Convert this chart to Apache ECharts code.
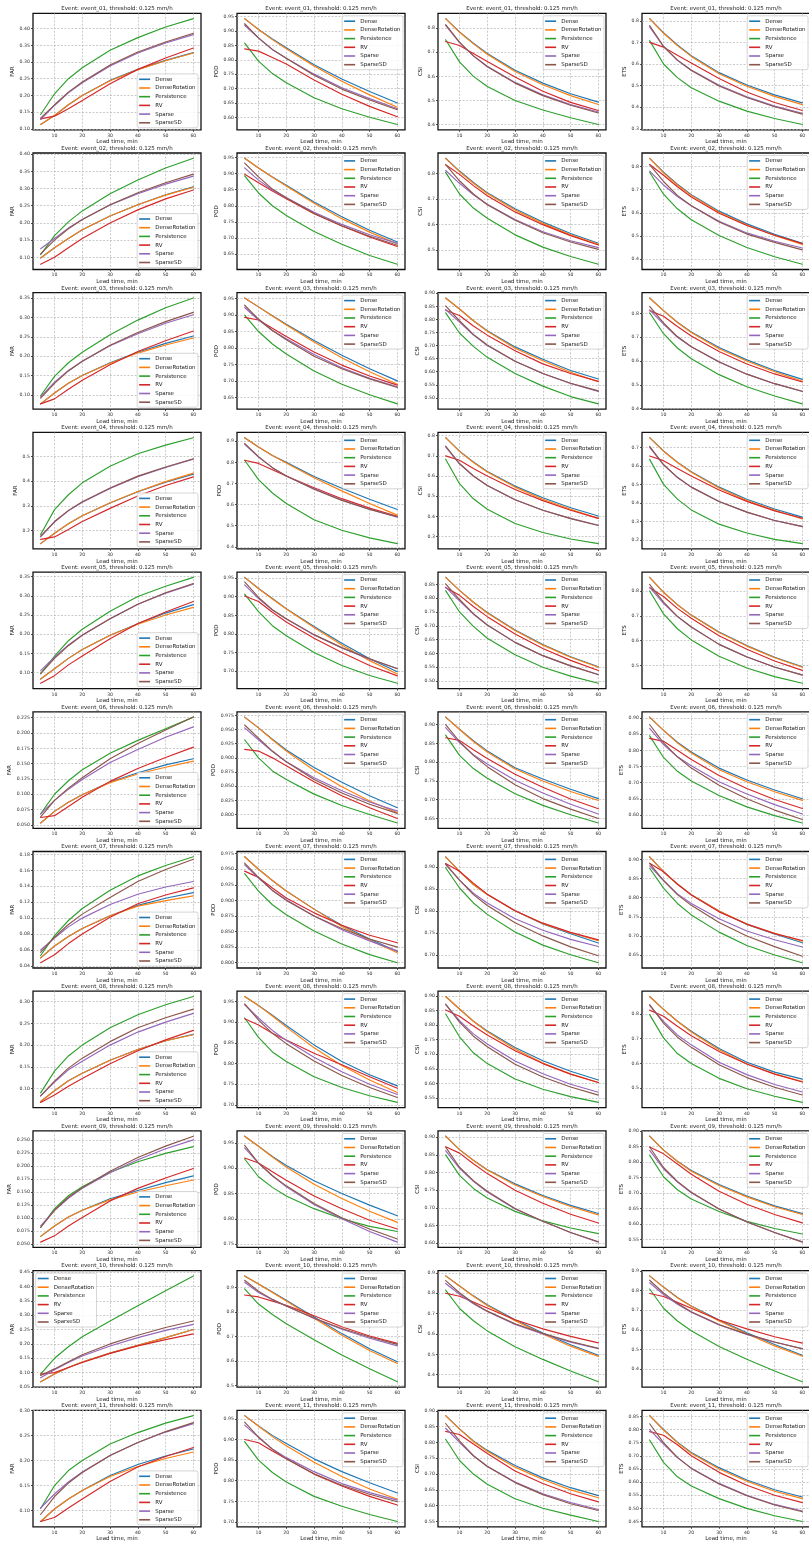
<!DOCTYPE html>
<html><head><meta charset="utf-8">
<script src="https://cdn.jsdelivr.net/npm/echarts@6/dist/echarts.min.js"></script>
<style>html,body{margin:0;padding:0;background:#fff}#chart{width:809px;height:1544px}</style>
</head><body><div id="chart"></div>
<script>
// ---------------- data ----------------
const leadTimes = [5, 10, 15, 20, 30, 40, 50, 60];
const xTicks = [10, 20, 30, 40, 50, 60];
const methods = ['Dense', 'DenseRotation', 'Persistence', 'RV', 'Sparse', 'SparseSD'];
const metrics = ['FAR', 'POD', 'CSI', 'ETS'];
const events = ['event_01','event_02','event_03','event_04','event_05','event_06','event_07','event_08','event_09','event_10','event_11'];
const thresholdText = '0.125 mm/h';
const xLabel = 'Lead time, min';
// y tick steps (per event)
const tickStepFAR = [0.05, 0.05, 0.05, 0.1, 0.05, 0.025, 0.02, 0.05, 0.025, 0.05, 0.05];
const tickStepPOD = [0.05, 0.05, 0.05, 0.1, 0.05, 0.025, 0.025, 0.05, 0.05, 0.1, 0.05];
const tickStepCSI = [0.1, 0.1, 0.05, 0.1, 0.05, 0.05, 0.05, 0.05, 0.05, 0.1, 0.05];
const tickStepETS = [0.1, 0.1, 0.1, 0.1, 0.1, 0.05, 0.05, 0.1, 0.05, 0.1, 0.05];

// rows: Dense, DenseRotation, Persistence, RV, Sparse, SparseSD ; columns: leadTimes
const e01_FAR = [[0.113,0.140,0.172,0.200,0.245,0.278,0.305,0.328],[0.113,0.140,0.172,0.200,0.244,0.277,0.304,0.327],[0.143,0.205,0.250,0.283,0.335,0.373,0.405,0.430],[0.130,0.138,0.160,0.185,0.235,0.278,0.312,0.342],[0.128,0.170,0.208,0.238,0.288,0.327,0.357,0.382],[0.132,0.172,0.210,0.240,0.291,0.330,0.360,0.386]];
const e01_POD = [[0.943,0.905,0.872,0.842,0.783,0.733,0.690,0.650],[0.943,0.905,0.870,0.838,0.778,0.725,0.678,0.635],[0.858,0.795,0.752,0.720,0.668,0.630,0.600,0.575],[0.838,0.830,0.808,0.785,0.730,0.680,0.638,0.602],[0.920,0.875,0.835,0.805,0.750,0.703,0.665,0.630],[0.925,0.876,0.836,0.805,0.746,0.698,0.660,0.626]];
const e01_CSI = [[0.840,0.785,0.738,0.695,0.625,0.572,0.528,0.493],[0.840,0.783,0.735,0.692,0.620,0.565,0.520,0.483],[0.752,0.660,0.600,0.558,0.500,0.460,0.428,0.400],[0.745,0.728,0.695,0.662,0.597,0.538,0.492,0.458],[0.812,0.740,0.685,0.642,0.575,0.523,0.483,0.452],[0.815,0.742,0.685,0.640,0.572,0.520,0.480,0.448]];
const e01_ETS = [[0.810,0.745,0.688,0.638,0.560,0.503,0.457,0.420],[0.810,0.742,0.685,0.635,0.555,0.497,0.450,0.412],[0.708,0.600,0.537,0.490,0.428,0.382,0.348,0.320],[0.700,0.678,0.640,0.605,0.533,0.470,0.422,0.385],[0.772,0.680,0.617,0.572,0.502,0.448,0.405,0.372],[0.778,0.682,0.618,0.570,0.498,0.445,0.402,0.368]];

const e02_FAR = [[0.098,0.128,0.155,0.180,0.220,0.253,0.282,0.305],[0.098,0.128,0.155,0.180,0.220,0.253,0.281,0.304],[0.108,0.163,0.203,0.235,0.285,0.325,0.360,0.388],[0.080,0.100,0.128,0.155,0.200,0.238,0.270,0.296],[0.125,0.155,0.185,0.210,0.252,0.285,0.313,0.336],[0.110,0.150,0.183,0.210,0.253,0.288,0.317,0.342]];
const e02_POD = [[0.948,0.918,0.890,0.864,0.812,0.766,0.724,0.687],[0.948,0.918,0.889,0.862,0.808,0.760,0.718,0.682],[0.893,0.840,0.800,0.770,0.720,0.680,0.645,0.618],[0.898,0.872,0.846,0.822,0.775,0.737,0.703,0.673],[0.918,0.880,0.849,0.825,0.780,0.742,0.710,0.683],[0.933,0.890,0.852,0.825,0.777,0.738,0.705,0.677]];
const e02_CSI = [[0.860,0.810,0.765,0.725,0.662,0.610,0.565,0.527],[0.860,0.808,0.762,0.722,0.657,0.605,0.560,0.523],[0.805,0.720,0.665,0.625,0.560,0.512,0.475,0.445],[0.835,0.797,0.753,0.713,0.650,0.600,0.557,0.520],[0.812,0.762,0.717,0.680,0.620,0.572,0.537,0.510],[0.835,0.772,0.720,0.678,0.617,0.568,0.532,0.503]];
const e02_ETS = [[0.835,0.775,0.723,0.678,0.607,0.552,0.507,0.468],[0.835,0.772,0.720,0.675,0.602,0.547,0.502,0.463],[0.775,0.680,0.617,0.570,0.502,0.450,0.410,0.378],[0.808,0.762,0.712,0.668,0.598,0.545,0.503,0.467],[0.780,0.720,0.670,0.630,0.563,0.513,0.477,0.448],[0.808,0.735,0.675,0.630,0.560,0.508,0.472,0.440]];

const e03_FAR = [[0.077,0.105,0.130,0.150,0.183,0.210,0.233,0.252],[0.077,0.105,0.130,0.150,0.182,0.208,0.229,0.247],[0.098,0.148,0.183,0.210,0.255,0.293,0.325,0.350],[0.077,0.090,0.115,0.138,0.178,0.212,0.240,0.265],[0.095,0.133,0.163,0.187,0.227,0.258,0.285,0.307],[0.092,0.130,0.162,0.187,0.228,0.261,0.289,0.313]];
const e03_POD = [[0.952,0.925,0.898,0.872,0.823,0.778,0.737,0.700],[0.952,0.925,0.897,0.870,0.818,0.770,0.728,0.690],[0.900,0.850,0.812,0.782,0.730,0.690,0.658,0.630],[0.893,0.885,0.860,0.835,0.788,0.748,0.715,0.687],[0.923,0.885,0.853,0.828,0.780,0.740,0.708,0.682],[0.930,0.888,0.853,0.825,0.775,0.737,0.706,0.680]];
const e03_CSI = [[0.882,0.840,0.795,0.757,0.695,0.648,0.605,0.572],[0.882,0.840,0.795,0.755,0.690,0.642,0.598,0.562],[0.825,0.748,0.697,0.655,0.593,0.545,0.505,0.477],[0.835,0.815,0.775,0.740,0.680,0.630,0.593,0.563],[0.838,0.790,0.740,0.700,0.640,0.593,0.555,0.525],[0.852,0.795,0.743,0.702,0.640,0.593,0.556,0.527]];
const e03_ETS = [[0.865,0.812,0.763,0.722,0.657,0.605,0.560,0.523],[0.865,0.812,0.762,0.720,0.652,0.600,0.555,0.515],[0.803,0.715,0.655,0.610,0.543,0.492,0.453,0.420],[0.812,0.788,0.745,0.705,0.640,0.588,0.546,0.512],[0.815,0.755,0.700,0.660,0.597,0.545,0.505,0.472],[0.830,0.760,0.703,0.660,0.596,0.545,0.505,0.473]];

const e04_FAR = [[0.148,0.190,0.228,0.260,0.312,0.357,0.396,0.428],[0.148,0.190,0.228,0.260,0.313,0.358,0.398,0.432],[0.185,0.285,0.345,0.393,0.460,0.510,0.545,0.575],[0.165,0.175,0.205,0.237,0.290,0.340,0.382,0.417],[0.175,0.235,0.280,0.315,0.370,0.418,0.455,0.488],[0.178,0.237,0.282,0.317,0.372,0.420,0.457,0.490]];
const e04_POD = [[0.917,0.873,0.833,0.800,0.733,0.677,0.625,0.577],[0.917,0.873,0.833,0.797,0.727,0.665,0.605,0.550],[0.810,0.718,0.655,0.605,0.528,0.478,0.442,0.415],[0.810,0.795,0.765,0.735,0.680,0.628,0.583,0.545],[0.885,0.825,0.775,0.735,0.675,0.622,0.578,0.540],[0.890,0.827,0.775,0.735,0.673,0.620,0.577,0.542]];
const e04_CSI = [[0.790,0.723,0.670,0.623,0.550,0.492,0.443,0.402],[0.790,0.722,0.667,0.620,0.545,0.485,0.435,0.390],[0.683,0.562,0.487,0.435,0.365,0.320,0.288,0.265],[0.700,0.678,0.637,0.600,0.533,0.478,0.430,0.390],[0.745,0.660,0.600,0.553,0.482,0.430,0.390,0.356],[0.748,0.662,0.600,0.553,0.482,0.430,0.389,0.355]];
const e04_ETS = [[0.752,0.680,0.620,0.568,0.485,0.420,0.367,0.323],[0.752,0.679,0.618,0.565,0.480,0.413,0.360,0.313],[0.635,0.500,0.420,0.362,0.285,0.237,0.203,0.180],[0.653,0.628,0.585,0.545,0.470,0.408,0.357,0.317],[0.700,0.605,0.537,0.485,0.407,0.350,0.305,0.273],[0.705,0.607,0.538,0.485,0.407,0.350,0.305,0.272]];

const e05_FAR = [[0.083,0.110,0.137,0.160,0.197,0.227,0.255,0.277],[0.083,0.110,0.137,0.160,0.197,0.226,0.250,0.270],[0.097,0.143,0.183,0.213,0.260,0.298,0.325,0.348],[0.072,0.092,0.120,0.143,0.188,0.228,0.258,0.285],[0.105,0.140,0.172,0.198,0.240,0.278,0.307,0.330],[0.097,0.137,0.170,0.197,0.240,0.278,0.308,0.332]];
const e05_POD = [[0.952,0.922,0.895,0.868,0.820,0.775,0.733,0.698],[0.952,0.922,0.894,0.867,0.817,0.770,0.728,0.692],[0.907,0.860,0.822,0.795,0.750,0.715,0.688,0.667],[0.902,0.887,0.858,0.832,0.788,0.750,0.715,0.687],[0.932,0.895,0.864,0.840,0.797,0.762,0.732,0.707],[0.940,0.898,0.865,0.841,0.798,0.763,0.733,0.706]];
const e05_CSI = [[0.875,0.828,0.785,0.748,0.685,0.632,0.588,0.552],[0.875,0.828,0.785,0.746,0.683,0.630,0.586,0.550],[0.827,0.750,0.698,0.655,0.595,0.550,0.518,0.492],[0.838,0.810,0.770,0.733,0.670,0.618,0.575,0.538],[0.840,0.790,0.742,0.703,0.640,0.592,0.555,0.524],[0.852,0.795,0.744,0.703,0.640,0.592,0.555,0.523]];
const e05_ETS = [[0.855,0.795,0.745,0.703,0.635,0.580,0.533,0.495],[0.855,0.795,0.745,0.702,0.633,0.578,0.531,0.493],[0.800,0.708,0.648,0.603,0.537,0.490,0.455,0.428],[0.813,0.778,0.730,0.690,0.620,0.565,0.518,0.480],[0.815,0.750,0.697,0.655,0.585,0.535,0.493,0.462],[0.827,0.755,0.698,0.655,0.585,0.534,0.494,0.461]];

const e06_FAR = [[0.053,0.072,0.087,0.099,0.120,0.135,0.148,0.158],[0.053,0.072,0.087,0.099,0.119,0.133,0.144,0.154],[0.068,0.100,0.122,0.140,0.167,0.188,0.207,0.226],[0.062,0.065,0.080,0.095,0.121,0.142,0.160,0.177],[0.068,0.090,0.108,0.124,0.152,0.173,0.193,0.210],[0.063,0.090,0.110,0.127,0.158,0.183,0.205,0.226]];
const e06_POD = [[0.972,0.953,0.933,0.914,0.883,0.857,0.833,0.812],[0.972,0.953,0.932,0.912,0.878,0.849,0.824,0.803],[0.932,0.900,0.877,0.862,0.836,0.816,0.800,0.785],[0.915,0.912,0.900,0.886,0.858,0.833,0.812,0.793],[0.953,0.932,0.911,0.893,0.865,0.842,0.822,0.806],[0.958,0.935,0.912,0.893,0.862,0.838,0.818,0.802]];
const e06_CSI = [[0.920,0.888,0.857,0.830,0.785,0.755,0.728,0.703],[0.920,0.887,0.855,0.827,0.782,0.750,0.722,0.698],[0.872,0.818,0.783,0.757,0.716,0.685,0.660,0.638],[0.865,0.858,0.833,0.810,0.768,0.733,0.702,0.676],[0.892,0.852,0.820,0.795,0.752,0.718,0.688,0.662],[0.900,0.855,0.818,0.788,0.740,0.703,0.675,0.650]];
const e06_ETS = [[0.903,0.862,0.825,0.795,0.745,0.708,0.677,0.650],[0.903,0.862,0.823,0.792,0.740,0.703,0.672,0.645],[0.845,0.778,0.735,0.705,0.660,0.625,0.598,0.575],[0.837,0.828,0.800,0.772,0.722,0.682,0.648,0.620],[0.868,0.818,0.780,0.752,0.703,0.665,0.632,0.603],[0.880,0.823,0.780,0.745,0.692,0.650,0.615,0.586]];

const e07_FAR = [[0.050,0.065,0.077,0.087,0.103,0.116,0.125,0.132],[0.050,0.065,0.077,0.087,0.103,0.115,0.122,0.128],[0.053,0.078,0.097,0.112,0.135,0.153,0.166,0.177],[0.044,0.054,0.068,0.080,0.101,0.118,0.129,0.138],[0.060,0.075,0.089,0.100,0.117,0.130,0.139,0.146],[0.057,0.076,0.092,0.105,0.126,0.146,0.161,0.174]];
const e07_POD = [[0.970,0.950,0.932,0.915,0.886,0.860,0.838,0.818],[0.970,0.950,0.932,0.915,0.886,0.858,0.836,0.816],[0.943,0.915,0.893,0.877,0.851,0.830,0.813,0.800],[0.947,0.937,0.920,0.904,0.880,0.860,0.844,0.832],[0.957,0.936,0.916,0.901,0.875,0.853,0.835,0.819],[0.960,0.937,0.916,0.900,0.875,0.855,0.838,0.825]];
const e07_CSI = [[0.923,0.890,0.860,0.837,0.800,0.770,0.748,0.727],[0.923,0.890,0.860,0.837,0.800,0.771,0.750,0.732],[0.898,0.852,0.818,0.792,0.752,0.722,0.700,0.682],[0.908,0.890,0.863,0.838,0.800,0.772,0.751,0.734],[0.905,0.870,0.840,0.818,0.782,0.756,0.735,0.719],[0.907,0.870,0.837,0.812,0.773,0.743,0.718,0.698]];
const e07_ETS = [[0.907,0.868,0.835,0.808,0.765,0.730,0.705,0.682],[0.907,0.868,0.835,0.808,0.765,0.731,0.707,0.686],[0.877,0.825,0.785,0.755,0.710,0.675,0.650,0.630],[0.890,0.868,0.836,0.807,0.763,0.731,0.706,0.688],[0.883,0.845,0.810,0.785,0.745,0.713,0.690,0.671],[0.890,0.845,0.808,0.780,0.735,0.700,0.672,0.647]];

const e08_FAR = [[0.070,0.095,0.118,0.135,0.165,0.190,0.210,0.225],[0.070,0.095,0.118,0.135,0.165,0.190,0.210,0.224],[0.090,0.140,0.175,0.200,0.240,0.270,0.293,0.312],[0.068,0.085,0.105,0.123,0.157,0.187,0.212,0.234],[0.083,0.115,0.143,0.163,0.200,0.230,0.253,0.273],[0.083,0.117,0.147,0.170,0.208,0.240,0.263,0.283]];
const e08_POD = [[0.962,0.940,0.917,0.892,0.845,0.805,0.773,0.746],[0.962,0.940,0.915,0.888,0.838,0.795,0.760,0.730],[0.910,0.863,0.828,0.805,0.768,0.742,0.722,0.706],[0.908,0.893,0.873,0.857,0.825,0.797,0.768,0.740],[0.942,0.910,0.880,0.856,0.815,0.780,0.750,0.725],[0.944,0.905,0.873,0.848,0.806,0.771,0.742,0.718]];
const e08_CSI = [[0.898,0.855,0.813,0.780,0.723,0.678,0.642,0.612],[0.898,0.855,0.813,0.777,0.718,0.670,0.632,0.603],[0.838,0.760,0.705,0.668,0.615,0.580,0.555,0.535],[0.852,0.830,0.797,0.766,0.712,0.668,0.632,0.603],[0.870,0.815,0.770,0.735,0.677,0.633,0.597,0.570],[0.872,0.810,0.762,0.726,0.666,0.622,0.588,0.560]];
const e08_ETS = [[0.870,0.818,0.770,0.730,0.660,0.605,0.565,0.537],[0.870,0.818,0.770,0.727,0.655,0.598,0.558,0.527],[0.797,0.703,0.640,0.600,0.540,0.498,0.468,0.443],[0.815,0.790,0.750,0.712,0.648,0.598,0.557,0.525],[0.833,0.770,0.715,0.675,0.605,0.555,0.515,0.485],[0.837,0.763,0.706,0.665,0.595,0.543,0.504,0.473]];

const e09_FAR = [[0.065,0.085,0.102,0.115,0.137,0.153,0.168,0.181],[0.065,0.085,0.102,0.115,0.135,0.150,0.162,0.173],[0.082,0.118,0.143,0.160,0.188,0.208,0.224,0.237],[0.054,0.066,0.085,0.101,0.133,0.157,0.177,0.195],[0.085,0.115,0.138,0.157,0.187,0.212,0.233,0.250],[0.082,0.115,0.140,0.158,0.190,0.216,0.238,0.257]];
const e09_POD = [[0.963,0.943,0.923,0.905,0.875,0.850,0.827,0.806],[0.963,0.943,0.922,0.902,0.868,0.840,0.815,0.793],[0.918,0.883,0.862,0.845,0.820,0.800,0.785,0.775],[0.920,0.910,0.893,0.876,0.845,0.820,0.797,0.780],[0.940,0.910,0.885,0.863,0.828,0.800,0.775,0.754],[0.945,0.910,0.885,0.865,0.830,0.802,0.780,0.760]];
const e09_CSI = [[0.903,0.865,0.835,0.808,0.768,0.735,0.707,0.684],[0.903,0.865,0.834,0.807,0.765,0.732,0.704,0.680],[0.850,0.792,0.755,0.728,0.690,0.663,0.643,0.627],[0.873,0.855,0.825,0.797,0.750,0.713,0.682,0.657],[0.862,0.812,0.775,0.745,0.697,0.662,0.630,0.603],[0.872,0.815,0.777,0.747,0.698,0.662,0.630,0.604]];
const e09_ETS = [[0.883,0.838,0.802,0.772,0.727,0.690,0.658,0.633],[0.883,0.838,0.802,0.770,0.724,0.687,0.655,0.630],[0.822,0.752,0.710,0.680,0.640,0.608,0.585,0.567],[0.848,0.826,0.793,0.760,0.705,0.663,0.630,0.603],[0.837,0.778,0.735,0.700,0.648,0.607,0.572,0.542],[0.848,0.782,0.737,0.702,0.648,0.606,0.572,0.541]];

const e10_FAR = [[0.068,0.095,0.118,0.137,0.168,0.195,0.222,0.250],[0.068,0.095,0.118,0.137,0.168,0.195,0.222,0.250],[0.095,0.150,0.190,0.225,0.280,0.333,0.385,0.437],[0.095,0.100,0.118,0.135,0.167,0.193,0.215,0.235],[0.082,0.110,0.135,0.158,0.193,0.222,0.247,0.268],[0.090,0.113,0.138,0.162,0.200,0.230,0.257,0.280]];
const e10_POD = [[0.948,0.915,0.882,0.848,0.780,0.712,0.650,0.597],[0.948,0.915,0.880,0.845,0.775,0.705,0.643,0.590],[0.895,0.833,0.790,0.752,0.687,0.625,0.568,0.515],[0.870,0.862,0.845,0.828,0.785,0.740,0.702,0.672],[0.922,0.880,0.850,0.825,0.775,0.730,0.693,0.662],[0.930,0.885,0.852,0.825,0.775,0.733,0.698,0.668]];
const e10_CSI = [[0.885,0.835,0.787,0.743,0.670,0.605,0.547,0.495],[0.885,0.835,0.785,0.740,0.665,0.600,0.540,0.490],[0.815,0.725,0.665,0.615,0.537,0.475,0.418,0.365],[0.800,0.785,0.757,0.727,0.670,0.625,0.588,0.556],[0.848,0.795,0.748,0.710,0.647,0.600,0.560,0.528],[0.862,0.802,0.752,0.712,0.650,0.603,0.563,0.530]];
const e10_ETS = [[0.875,0.818,0.765,0.722,0.650,0.585,0.525,0.470],[0.875,0.818,0.763,0.720,0.645,0.580,0.518,0.465],[0.808,0.710,0.645,0.595,0.515,0.450,0.390,0.335],[0.785,0.770,0.740,0.710,0.650,0.605,0.565,0.532],[0.840,0.780,0.730,0.690,0.625,0.577,0.537,0.505],[0.853,0.788,0.735,0.692,0.627,0.578,0.538,0.503]];

const e11_FAR = [[0.078,0.103,0.123,0.140,0.170,0.192,0.209,0.223],[0.078,0.103,0.123,0.140,0.168,0.188,0.204,0.217],[0.104,0.150,0.180,0.200,0.233,0.256,0.275,0.290],[0.078,0.086,0.105,0.123,0.158,0.187,0.208,0.226],[0.105,0.133,0.157,0.177,0.210,0.236,0.257,0.274],[0.092,0.128,0.155,0.176,0.210,0.236,0.258,0.276]];
const e11_POD = [[0.958,0.933,0.910,0.890,0.853,0.822,0.795,0.770],[0.958,0.932,0.907,0.885,0.845,0.810,0.780,0.755],[0.895,0.850,0.820,0.797,0.762,0.738,0.718,0.701],[0.900,0.892,0.872,0.853,0.816,0.787,0.762,0.741],[0.935,0.905,0.877,0.856,0.822,0.793,0.771,0.753],[0.942,0.906,0.876,0.853,0.817,0.789,0.767,0.749]];
const e11_CSI = [[0.885,0.843,0.805,0.775,0.727,0.688,0.657,0.632],[0.885,0.842,0.803,0.772,0.722,0.683,0.650,0.625],[0.810,0.743,0.700,0.668,0.622,0.592,0.570,0.550],[0.835,0.825,0.795,0.765,0.710,0.670,0.638,0.612],[0.845,0.800,0.758,0.725,0.675,0.638,0.610,0.588],[0.860,0.805,0.758,0.724,0.673,0.635,0.606,0.585]];
const e11_ETS = [[0.853,0.800,0.752,0.713,0.655,0.608,0.571,0.543],[0.853,0.798,0.750,0.710,0.650,0.603,0.565,0.537],[0.760,0.675,0.620,0.585,0.537,0.500,0.472,0.450],[0.792,0.778,0.742,0.700,0.637,0.588,0.550,0.522],[0.800,0.745,0.693,0.653,0.595,0.550,0.515,0.490],[0.822,0.750,0.694,0.652,0.593,0.548,0.513,0.487]];

// ---------------- assembly ----------------
const table = [
  [e01_FAR, e01_POD, e01_CSI, e01_ETS],
  [e02_FAR, e02_POD, e02_CSI, e02_ETS],
  [e03_FAR, e03_POD, e03_CSI, e03_ETS],
  [e04_FAR, e04_POD, e04_CSI, e04_ETS],
  [e05_FAR, e05_POD, e05_CSI, e05_ETS],
  [e06_FAR, e06_POD, e06_CSI, e06_ETS],
  [e07_FAR, e07_POD, e07_CSI, e07_ETS],
  [e08_FAR, e08_POD, e08_CSI, e08_ETS],
  [e09_FAR, e09_POD, e09_CSI, e09_ETS],
  [e10_FAR, e10_POD, e10_CSI, e10_ETS],
  [e11_FAR, e11_POD, e11_CSI, e11_ETS]
];
const tickSteps = [tickStepFAR, tickStepPOD, tickStepCSI, tickStepETS];

// ---------------- layout & style ----------------
const W = 809, H = 1544;
const colors = ['#1f77b4', '#ff7f0e', '#2ca02c', '#d62728', '#9467bd', '#8c564b'];
const FONT = "'DejaVu Sans', sans-serif";
const colLeft = [33, 237, 438, 642];
const plotW = 168;
const rowTop0 = 13.3, rowPitch = 139.7, plotH = 116.5;
const tickFont = 4.6, textFont = 5.5, labelMargin = 3.2;

const cv = document.createElement('canvas').getContext('2d');
function textW(s, fs) { cv.font = fs + 'px ' + FONT; return cv.measureText(s).width; }
function decimalsOf(step) { const s = String(step); return s.includes('.') ? s.split('.')[1].length : 0; }

const option = {
  animation: false,
  backgroundColor: '#ffffff',
  textStyle: { fontFamily: FONT },
  title: [], grid: [], xAxis: [], yAxis: [], legend: [], series: []
};

let k = 0;
events.forEach((ev, r) => {
  metrics.forEach((met, c) => {
    const vals = table[r][c];
    const L = colLeft[c], T = rowTop0 + r * rowPitch;
    let lo = Infinity, hi = -Infinity;
    vals.forEach(row => row.forEach(v => { lo = Math.min(lo, v); hi = Math.max(hi, v); }));
    const pad = (hi - lo) * 0.05;
    const ymin = lo - pad, ymax = hi + pad;
    const step = tickSteps[c][r];
    const dec = decimalsOf(step);
    const yTicks = [];
    for (let t = Math.ceil(ymin / step - 1e-9) * step; t <= ymax + 1e-9; t += step) yTicks.push(+t.toFixed(6));
    const maxLabelW = Math.max(...yTicks.map(t => textW(t.toFixed(dec), tickFont)));

    option.grid.push({ left: L, top: T, width: plotW, height: plotH, show: true,
      borderColor: '#111111', borderWidth: 1.3, backgroundColor: 'transparent', outerBoundsMode: 'none', containLabel: false });
    option.title.push({ text: 'Event: ' + ev + ', threshold: ' + thresholdText, left: L + plotW / 2, top: T - 7.6,
      textAlign: 'center', padding: 0, textStyle: { fontSize: textFont, fontWeight: 'normal', color: '#222', fontFamily: FONT } });
    option.xAxis.push({ type: 'value', gridIndex: k, min: 2.25, max: 62.75,
      axisLine: { show: false, onZero: false },
      axisTick: { show: true, customValues: xTicks, length: 2, lineStyle: { color: '#222', width: 0.8 } },
      axisLabel: { customValues: xTicks, fontSize: tickFont, margin: labelMargin, color: '#333', fontFamily: FONT, formatter: v => String(v) },
      splitLine: { show: true, lineStyle: { type: [2, 1.5], color: '#b4b4b4', width: 0.7 } },
      name: xLabel, nameLocation: 'middle', nameGap: 9.2,
      nameTextStyle: { fontSize: textFont, color: '#222', fontFamily: FONT } });
    option.yAxis.push({ type: 'value', gridIndex: k, min: ymin, max: ymax,
      axisLine: { show: false, onZero: false },
      axisTick: { show: true, customValues: yTicks, length: 2, lineStyle: { color: '#222', width: 0.8 } },
      axisLabel: { customValues: yTicks, fontSize: tickFont, margin: labelMargin, color: '#333', fontFamily: FONT, formatter: v => (+v).toFixed(dec) },
      splitLine: { show: true, lineStyle: { type: [2, 1.5], color: '#b4b4b4', width: 0.7 } },
      name: met, nameLocation: 'middle', nameRotate: 90, nameGap: labelMargin + maxLabelW + 2,
      nameTextStyle: { fontSize: textFont, color: '#222', fontFamily: FONT } });

    const lg = { data: methods, orient: 'vertical', icon: 'rect', itemWidth: 11, itemHeight: 1.6, itemGap: 2.7,
      padding: [2.4, 2.5, 2, 2], backgroundColor: 'rgba(255,255,255,0.85)', borderColor: '#cccccc', borderWidth: 0.8,
      borderRadius: 2, selectedMode: false, textStyle: { fontSize: textFont, color: '#222', fontFamily: FONT } };
    if (met === 'FAR' && ev === 'event_10') { lg.left = L + 2.7; lg.top = T + 2.5; }
    else if (met === 'FAR') { lg.right = W - (L + plotW) + 3; lg.bottom = H - (T + plotH) + 2; }
    else { lg.right = W - (L + plotW) + 2; lg.top = T + 2.5; }
    option.legend.push(lg);

    methods.forEach((m, s) => {
      option.series.push({ type: 'line', name: m, xAxisIndex: k, yAxisIndex: k,
        data: leadTimes.map((x, j) => [x, vals[s][j]]),
        showSymbol: false, symbol: 'none', smooth: false,
        sampling: null, large: false, progressive: 0,
        lineStyle: { width: 1.15, color: colors[s], join: 'round', cap: 'round' }, itemStyle: { color: colors[s] },
        emphasis: { disabled: true }, silent: true, z: 2 });
    });
    k++;
  });
});

const chart = echarts.init(document.getElementById('chart'), null, { renderer: 'canvas', width: W, height: H });
chart.setOption(option);
</script></body></html>
